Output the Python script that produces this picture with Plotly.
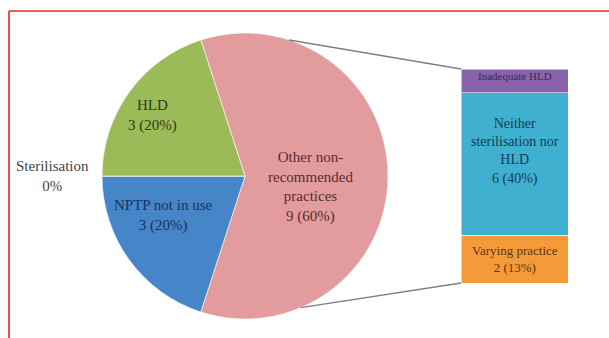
import math
import plotly.graph_objects as go

# ---- data -------------------------------------------------------------
pie_labels = ["Other non-<br>recommended<br>practices", "NPTP not in use", "Sterilisation", "HLD"]
pie_values = [9, 3, 0, 3]

bar_labels = ["Varying practice", "Neither<br>sterilisation nor<br>HLD", "Inadequate HLD"]
bar_values = [2, 6, 1]

# ---- styling / layout -------------------------------------------------
W, H = 609, 338
FONT = "Liberation Serif"
pie_colors = ["#E29C9D", "#4585C8", "#C0504D", "#9BBB59"]
pie_text_colors = ["#5A2C2C", "#16355F", "#444444", "#2C3A10"]
bar_colors = ["#F59A38", "#3FB0CF", "#8663AC"]
bar_text_colors = ["#5A3610", "#173C52", "#3A2A52"]

# pie geometry in pixels (centre, radius)
cx, cy, R = 245, 176, 143
ROT = -18  # start angle of the first slice, clockwise from 12 o'clock

# per-slice label placement: radial fraction, pixel nudges
pie_label_place = [(0.46, 0, 11), (0.62, -10, -13), (None, None, None), (0.77, -3, 4)]

# bar placement (pixels)
bx0, bx1, by_top, by_bot = 461, 568, 69, 283

total = sum(pie_values)


def pct(v):
    return f"{v} ({round(100 * v / total)}%)"


def px2paper(x, y):
    return x / W, 1 - y / H


fig = go.Figure()

fig.add_trace(go.Pie(
    labels=pie_labels,
    values=pie_values,
    sort=False,
    direction="clockwise",
    rotation=ROT,
    marker=dict(colors=pie_colors, line=dict(color="rgba(255,255,255,0.6)", width=1)),
    textinfo="none",
    hoverinfo="label+value+percent",
    showlegend=False,
    domain=dict(x=[(cx - R) / W, (cx + R) / W], y=[1 - (cy + R) / H, 1 - (cy - R) / H]),
))

# stacked bar breaking down the "other" slice
for lab, val, col in zip(bar_labels, bar_values, bar_colors):
    fig.add_trace(go.Bar(
        x=[0], y=[val], width=[1],
        marker=dict(color=col, line=dict(color="rgba(255,255,255,0.55)", width=1)),
        showlegend=False, hoverinfo="y", xaxis="x", yaxis="y",
    ))

fig.update_layout(
    barmode="stack",
    width=W, height=H,
    margin=dict(l=0, r=0, t=0, b=0),
    paper_bgcolor="white", plot_bgcolor="rgba(0,0,0,0)",
    font=dict(family=FONT, size=14),
    xaxis=dict(domain=[bx0 / W, bx1 / W], range=[-0.5, 0.5], visible=False, fixedrange=True),
    yaxis=dict(domain=[1 - by_bot / H, 1 - by_top / H], range=[0, sum(bar_values)],
               visible=False, fixedrange=True),
)

annotations = []

# pie labels from slice mid-angles
start = ROT
for lab, val, (f, dx, dy), tc in zip(pie_labels, pie_values, pie_label_place, pie_text_colors):
    sweep = 360 * val / total
    mid = math.radians(start + sweep / 2)
    start += sweep
    if f is None:
        continue
    x = cx + f * R * math.sin(mid) + dx
    y = cy - f * R * math.cos(mid) + dy
    px, py = px2paper(x, y)
    annotations.append(dict(x=px, y=py, xref="paper", yref="paper", showarrow=False,
                            xanchor="center", yanchor="middle",
                            text=f"{lab}<br>{pct(val)}", align="center",
                            font=dict(family=FONT, size=15, color=tc)))

# zero-value slice label sits outside the pie on the left
zi = pie_values.index(0)
px, py = px2paper(52, 176)
annotations.append(dict(x=px, y=py, xref="paper", yref="paper", showarrow=False,
                        xanchor="center", yanchor="middle",
                        text=f"{pie_labels[zi]}<br>{round(100 * pie_values[zi] / total)}%",
                        align="center", font=dict(family=FONT, size=15, color=pie_text_colors[zi])))

# bar segment labels, centred on each stacked segment
base = 0
bar_sizes = [13, 14, 11]
bar_shift = [0, 13, 5]
for i, (lab, val, tc) in enumerate(zip(bar_labels, bar_values, bar_text_colors)):
    txt = lab if i == 2 else f"{lab}<br>{pct(val)}"
    annotations.append(dict(x=0, y=base + val / 2, xref="x", yref="y", showarrow=False,
                            xanchor="center", yanchor="middle",
                            text=txt, align="center", yshift=bar_shift[i],
                            font=dict(family=FONT, size=bar_sizes[i], color=tc)))
    base += val

fig.update_layout(annotations=annotations)

# connector lines from the pie edge to the bar corners
shapes = []
for ang, (bx, by) in [(18, (bx0, by_top)), (157, (bx0, by_bot))]:
    a = math.radians(ang)
    x0, y0 = px2paper(cx + R * math.sin(a), cy - R * math.cos(a))
    x1, y1 = px2paper(bx, by)
    shapes.append(dict(type="line", xref="paper", yref="paper", x0=x0, y0=y0, x1=x1, y1=y1,
                       line=dict(color="#7F7F7F", width=1.3)))

# red frame (top and left edges visible)
fx, fy = px2paper(9, 11)
shapes.append(dict(type="line", xref="paper", yref="paper", x0=fx, y0=fy, x1=1.01, y1=fy,
                   line=dict(color="#E8232B", width=1.6)))
shapes.append(dict(type="line", xref="paper", yref="paper", x0=fx, y0=fy, x1=fx, y1=-0.01,
                   line=dict(color="#E8232B", width=1.6)))
fig.update_layout(shapes=shapes)

fig.write_html("out.html")
